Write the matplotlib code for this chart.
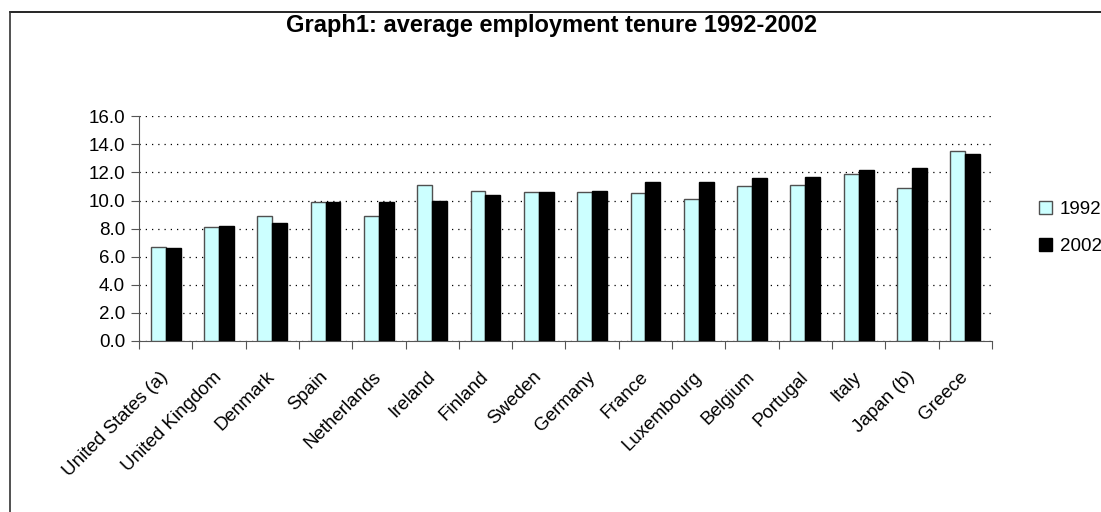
import numpy as np
import matplotlib.pyplot as plt
import matplotlib.transforms as mtransforms
from matplotlib.lines import Line2D

plt.rcParams['font.family'] = ['Liberation Sans', 'DejaVu Sans']

countries = ["United States (a)", "United Kingdom", "Denmark", "Spain",
             "Netherlands", "Ireland", "Finland", "Sweden", "Germany",
             "France", "Luxembourg", "Belgium", "Portugal", "Italy",
             "Japan (b)", "Greece"]
tenure_1992 = [6.7, 8.1, 8.9, 9.9, 8.9, 11.1, 10.7, 10.6, 10.6, 10.5,
               10.1, 11.0, 11.1, 11.9, 10.9, 13.5]
tenure_2002 = [6.6, 8.2, 8.4, 9.9, 9.9, 10.0, 10.4, 10.6, 10.7, 11.3,
               11.3, 11.6, 11.7, 12.2, 12.3, 13.3]
yticks = np.arange(0, 16.1, 2.0)

fig = plt.figure(figsize=(11.01, 5.12), dpi=100)
ax = fig.add_axes([0.1262, 0.334, 0.7748, 0.439])

x = np.arange(len(countries))
w = 0.28
ax.bar(x - w / 2, tenure_1992, w, color="#CCFFFF", edgecolor="#505050",
       linewidth=1, label="1992", zorder=3)
ax.bar(x + w / 2, tenure_2002, w, color="black", edgecolor="black",
       linewidth=1, label="2002", zorder=3)

ax.set_xlim(-0.5, len(countries) - 0.5)
ax.set_ylim(0, 16)
ax.set_yticks(yticks)
ax.set_yticklabels([f"{v:.1f}" for v in yticks], fontsize=13.5)
ax.yaxis.grid(True, linestyle=(0, (1, 4)), color="black", linewidth=0.9)
ax.set_axisbelow(True)

# category ticks sit between groups, labels centred on groups
ax.set_xticks(np.arange(-0.5, len(countries), 1.0))
ax.set_xticklabels([])
ax.set_xticks(x, minor=True)
ax.set_xticklabels(countries, minor=True, rotation=45, ha="right",
                   va="center", rotation_mode="anchor", fontsize=13.5)
shift = mtransforms.ScaledTranslation(-5 / 100, 0, fig.dpi_scale_trans)
for lab in ax.get_xticklabels(minor=True):
    lab.set_transform(lab.get_transform() + shift)
ax.tick_params(axis="x", which="minor", length=0, pad=24)
ax.tick_params(axis="x", which="major", length=6, color="#555555")
ax.tick_params(axis="y", length=6, color="#555555", pad=4)

for side in ("top", "right"):
    ax.spines[side].set_visible(False)
for side in ("left", "bottom"):
    ax.spines[side].set_color("#555555")

fig.text(0.501, 0.95, "Graph1: average employment tenure 1992-2002",
         ha="center", va="center", fontsize=17, fontweight="bold")

fig.legend(loc="upper left", bbox_to_anchor=(0.937, 0.623), frameon=False,
           fontsize=13.5, handlelength=0.7, handleheight=0.7,
           handletextpad=0.4, labelspacing=1.1, borderaxespad=0)

# chart-area frame (only top and left edges visible in the crop)
fig.add_artist(Line2D([10 / 1101, 1], [1 - 12 / 512, 1 - 12 / 512],
                      color="black", linewidth=1.2))
fig.add_artist(Line2D([10 / 1101, 10 / 1101], [0, 1 - 12 / 512],
                      color="#333333", linewidth=1.2))

fig.savefig("out.png", dpi=100)
